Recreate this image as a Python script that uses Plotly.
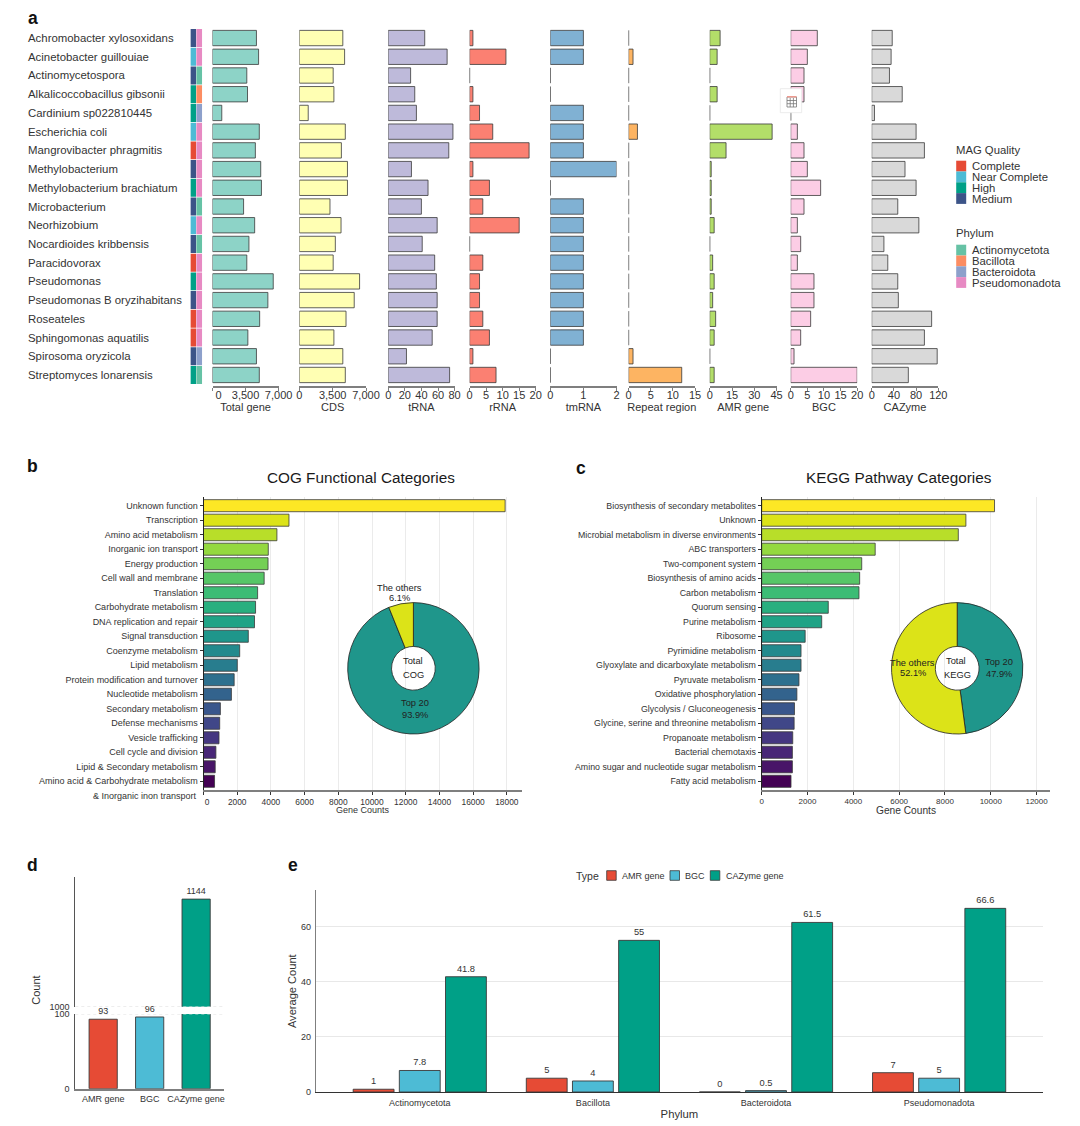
import plotly.graph_objects as go

W, H = 1080, 1126
FONT = "Liberation Sans"
INK = "#333333"
EDGE = "#3a3a3a"
AXIS_GREY = "#7f7f7f"

# Panel a: per-genome traits
species = ["Achromobacter xylosoxidans", "Acinetobacter guillouiae", "Actinomycetospora",
           "Alkalicoccobacillus gibsonii", "Cardinium sp022810445", "Escherichia coli",
           "Mangrovibacter phragmitis", "Methylobacterium", "Methylobacterium brachiatum",
           "Microbacterium", "Neorhizobium", "Nocardioides kribbensis", "Paracidovorax",
           "Pseudomonas", "Pseudomonas B oryzihabitans", "Roseateles", "Sphingomonas aquatilis",
           "Spirosoma oryzicola", "Streptomyces lonarensis"]
quality = ["Medium", "Near Complete", "Medium", "High", "High", "Near Complete", "Complete",
           "Medium", "High", "Medium", "Near Complete", "Medium", "Complete", "High", "Medium",
           "Complete", "Complete", "Medium", "High"]
phylum = ["Pseudomonadota", "Pseudomonadota", "Actinomycetota", "Bacillota", "Bacteroidota",
          "Pseudomonadota", "Pseudomonadota", "Pseudomonadota", "Pseudomonadota", "Actinomycetota",
          "Pseudomonadota", "Actinomycetota", "Pseudomonadota", "Pseudomonadota", "Pseudomonadota",
          "Pseudomonadota", "Pseudomonadota", "Bacteroidota", "Actinomycetota"]
total_gene = [4654, 4881, 3632, 3708, 984, 4957, 4540, 5108, 5184, 3292, 4465, 3859, 3632, 6432, 5865, 4994, 3746, 4654, 4957]
cds = [4567, 4754, 3556, 3631, 936, 4829, 4417, 5054, 5054, 3219, 4380, 3781, 3556, 6327, 5765, 4904, 3631, 4567, 4829]
trna = [44, 71, 27, 32, 34, 78, 73, 28, 48, 40, 59, 41, 56, 58, 59, 59, 53, 22, 74]
rrna = [1, 11, 0, 1, 3, 7, 18, 1, 6, 4, 15, 0, 4, 3, 3, 4, 6, 1, 8]
tmrna = [1, 1, 0, 0, 1, 1, 1, 2, 0, 1, 1, 1, 1, 1, 1, 1, 1, 0, 0]
repeat_region = [0, 1, 0, 0, 0, 2, 0, 0, 0, 0, 0, 0, 0, 0, 0, 0, 0, 1, 12]
amr_gene = [7, 5, 0, 5, 0, 42, 11, 1, 1, 1, 3, 0, 2, 3, 2, 4, 3, 0, 3]
bgc = [8, 5, 4, 4, 0, 2, 4, 5, 9, 4, 2, 3, 2, 7, 7, 6, 3, 1, 20]
cazyme = [37, 35, 32, 55, 5, 80, 95, 60, 80, 47, 85, 22, 29, 47, 48, 108, 95, 118, 66]

quality_colors = {"Complete": "#E64B35", "Near Complete": "#4DBBD5", "High": "#00A087", "Medium": "#3C5488"}
phylum_colors = {"Actinomycetota": "#66C2A5", "Bacillota": "#FC8D62", "Bacteroidota": "#8DA0CB", "Pseudomonadota": "#E78AC3"}

# name, values, fill, axis maximum, ticks, tick labels, left and right pixel of the column
trait_columns = [
    ("Total gene", total_gene, "#8DD3C7", 7000, [0, 3500, 7000], ["\u00a0\u00a0\u00a0\u00a00", "3,500", "7,000"], 212.5, 278.6),
    ("CDS", cds, "#FFFFB3", 7000, [0, 3500, 7000], ["0", "3,500", "7,000"], 299.3, 366.0),
    ("tRNA", trna, "#BEBADA", 80, [0, 20, 40, 60, 80], None, 388.2, 454.6),
    ("rRNA", rrna, "#FB8072", 20, [0, 5, 10, 15, 20], None, 469.6, 535.7),
    ("tmRNA", tmrna, "#80B1D3", 2, [0, 1, 2], None, 550.3, 616.5),
    ("Repeat region", repeat_region, "#FDB462", 15, [0, 5, 10, 15], None, 628.6, 695.0),
    ("AMR gene", amr_gene, "#B3DE69", 45, [0, 15, 30, 45], None, 709.7, 776.6),
    ("BGC", bgc, "#FCCDE5", 20, [0, 5, 10, 15, 20], None, 790.7, 857.2),
    ("CAZyme", cazyme, "#D9D9D9", 120, [0, 40, 80, 120], None, 871.7, 938.3),
]

# Panel b: COG categories
cog_categories = ["Unknown function", "Transcription", "Amino acid metabolism", "Inorganic ion transport",
                  "Energy production", "Cell wall and membrane", "Translation", "Carbohydrate metabolism",
                  "DNA replication and repair", "Signal transduction", "Coenzyme metabolism", "Lipid metabolism",
                  "Protein modification and turnover", "Nucleotide metabolism", "Secondary metabolism",
                  "Defense mechanisms", "Vesicle trafficking", "Cell cycle and division",
                  "Lipid & Secondary metabolism", "Amino acid & Carbohydrate metabolism"]
cog_counts = [17900, 5073, 4357, 3845, 3830, 3600, 3211, 3089, 3027, 2659, 2148, 2005, 1820, 1657, 1002, 961, 920, 736, 695, 655]
cog_share = [93.9, 6.1]

# Panel c: KEGG pathways
kegg_categories = ["Biosynthesis of secondary metabolites", "Unknown", "Microbial metabolism in diverse environments",
                   "ABC transporters", "Two-component system", "Biosynthesis of amino acids", "Carbon metabolism",
                   "Quorum sensing", "Purine metabolism", "Ribosome", "Pyrimidine metabolism",
                   "Glyoxylate and dicarboxylate metabolism", "Pyruvate metabolism", "Oxidative phosphorylation",
                   "Glycolysis / Gluconeogenesis", "Glycine, serine and threonine metabolism", "Propanoate metabolism",
                   "Bacterial chemotaxis", "Amino sugar and nucleotide sugar metabolism", "Fatty acid metabolism"]
kegg_counts = [10165, 8915, 8584, 4955, 4367, 4277, 4247, 2907, 2620, 1898, 1717, 1717, 1627, 1536, 1431, 1416, 1355, 1340, 1340, 1280]
kegg_share = [47.9, 52.1]

viridis_desc = ["#FDE725", "#DCE318", "#B8DE29", "#94D840", "#74D055", "#56C667", "#3CBC75", "#29AF7F", "#20A386",
                "#1F968B", "#238A8D", "#287D8E", "#2D708E", "#33638D", "#39568C", "#404788", "#453781", "#482677",
                "#481568", "#440154"]
share_colors = ["#1F968B", "#DCE318"]

# Panel d: totals with a broken count axis
gene_types = ["AMR gene", "BGC", "CAZyme gene"]
gene_totals = [93, 96, 1144]
type_colors = ["#E64B35", "#4DBBD5", "#00A087"]
AXIS_BREAK_LOW, AXIS_BREAK_HIGH = 100, 1000

# Panel e: averages per phylum
phyla = ["Actinomycetota", "Bacillota", "Bacteroidota", "Pseudomonadota"]
avg_amr = [1, 5, 0, 7]
avg_bgc = [7.8, 4, 0.5, 5]
avg_cazyme = [41.8, 55, 61.5, 66.6]


def dom_x(left, right):
    return [left / W, right / W]


def dom_y(top, bottom):
    return [1 - bottom / H, 1 - top / H]


def px(x):
    return x / W


def py(y):
    return 1 - y / H


annotations = []
shapes = []


def note(text, x, y, size=9, anchor="center", color=INK, **extra):
    annotations.append(dict(text=text, x=px(x), y=py(y), xref="paper", yref="paper", showarrow=False,
                            xanchor=anchor, yanchor="middle", borderpad=0, borderwidth=0,
                            font=dict(size=size, color=color, family=FONT), **extra))


def swatch(x0, y0, x1, y1, fill, line=None):
    shapes.append(dict(type="rect", xref="paper", yref="paper", x0=px(x0), x1=px(x1), y0=py(y0), y1=py(y1),
                       fillcolor=fill, line=dict(width=0.8 if line else 0, color=line or fill), layer="above"))


fig = go.Figure()
axes = {}

A_TOP, A_BOTTOM = 28.7, 386.2
axes["yaxis"] = dict(domain=dom_y(A_TOP, A_BOTTOM), type="category", categoryorder="array", categoryarray=species,
                     range=[18.6, -0.5], showticklabels=False, ticks="", showgrid=False, zeroline=False,
                     showline=False, anchor="x")

# Panel a bars
for i, (name, values, fill, top, ticks, labels, left, right) in enumerate(trait_columns, start=1):
    key = "xaxis" if i == 1 else f"xaxis{i}"
    ref = "x" if i == 1 else f"x{i}"
    fig.add_trace(go.Bar(x=values, y=species, orientation="h", width=0.82, xaxis=ref, yaxis="y", name=name,
                         marker=dict(color=fill, line=dict(color=EDGE, width=0.8)), showlegend=False))
    axes[key] = dict(domain=dom_x(left, right), anchor="y", range=[0, top], tickmode="array", tickvals=ticks,
                     ticktext=labels if labels else [str(t) for t in ticks],
                     ticks="outside", ticklen=3, tickwidth=1, tickcolor=AXIS_GREY, ticklabelstandoff=-5,
                     showline=True, linecolor=AXIS_GREY, linewidth=1.5, showgrid=False, zeroline=False,
                     tickfont=dict(size=11, color=INK, family=FONT),
                     title=dict(text=name, font=dict(size=11, color=INK, family=FONT), standoff=1))

# Annotation strips beside the species names
for idx, (colors, left, right) in enumerate([([quality_colors[q] for q in quality], 190.4, 196.2),
                                             ([phylum_colors[p] for p in phylum], 196.2, 202.2)]):
    n = 10 + idx
    fig.add_trace(go.Bar(x=[1] * len(species), y=species, orientation="h", width=0.96, xaxis=f"x{n}", yaxis="y",
                         marker=dict(color=colors, line=dict(width=0)), showlegend=False))
    axes[f"xaxis{n}"] = dict(domain=dom_x(left, right), anchor="y", range=[0, 1], visible=False)

for name in species:
    annotations.append(dict(text=name, x=px(28), y=name, xref="paper", yref="y", showarrow=False, xanchor="left",
                            yanchor="middle", borderpad=0, borderwidth=0,
                            font=dict(size=11.4, color=INK, family=FONT)))


def legend_block(title, title_y, first_y, entries):
    note(title, 956, title_y, size=11.3, anchor="left")
    for k, (label, color) in enumerate(entries.items()):
        y0 = first_y + k * 10.8
        swatch(956.2, y0, 966.2, y0 + 10.8, color)
        note(label, 971.5, y0 + 5.4, size=11.3, anchor="left")


legend_block("MAG Quality", 150, 160.7, quality_colors)
legend_block("Phylum", 232.7, 244.7, phylum_colors)


# Panels b and c: ranked bars with an inset donut
def ranked_panel(xa, ya, categories, counts, left, right, xmax, ticksize, tickfont, title_x, title_text, title_y):
    fig.add_trace(go.Bar(x=counts, y=categories, orientation="h", width=0.83, xaxis=xa, yaxis=ya, showlegend=False,
                         marker=dict(color=viridis_desc, line=dict(color=EDGE, width=0.8))))
    xkey = "xaxis" + xa[1:]
    ykey = "yaxis" + ya[1:]
    axes[ykey] = dict(domain=dom_y(496.7, 790), anchor=xa, type="category", categoryorder="array",
                      categoryarray=categories, range=[19.6, -0.62], ticks="outside", ticklen=3, tickwidth=0.8,
                      tickcolor=INK, showline=True, linecolor="#222222", linewidth=1, showgrid=False, zeroline=False,
                      tickfont=dict(size=ticksize, color=INK, family=FONT))
    axes[xkey] = dict(domain=dom_x(left, right), anchor=ya, range=[0, xmax], showline=True, linecolor=AXIS_GREY,
                      linewidth=1.5, ticks="outside", ticklen=3, tickwidth=0.8, tickcolor=INK, showgrid=True,
                      gridcolor="#EBEBEB", gridwidth=1, zeroline=False,
                      tickfont=dict(size=tickfont, color=INK, family=FONT))
    note(title_text, title_x, title_y, size=15.3, color="#1a1a1a")


ranked_panel("x12", "y2", cog_categories, cog_counts, 203.5, 522.4, 18925, 9, 8.4, 361,
             "COG Functional Categories", 477.7)
axes["xaxis12"].update(tickmode="array", tickvals=list(range(0, 18001, 2000)),
                       ticktext=["\u00a0\u00a0\u00a00"] + [str(v) for v in range(2000, 18001, 2000)])
note("Gene Counts", 363, 810, size=9)
note("& Inorganic inon transport", 197, 795.7, size=9, anchor="right")

ranked_panel("x13", "y3", kegg_categories, kegg_counts, 761.7, 1050.3, 12600, 8.8, 8, 899,
             "KEGG Pathway Categories", 477.7)
axes["xaxis13"].update(tickmode="array", tickvals=list(range(0, 12001, 2000)),
                       ticktext=[str(v) for v in range(0, 12001, 2000)])
note("Gene Counts", 906, 810.3, size=10.2)


def donut(share, cx, cy, radius):
    fig.add_trace(go.Pie(values=share, labels=["Top 20", "The others"], hole=0.333, sort=False, direction="clockwise",
                         rotation=0, textinfo="none", showlegend=False,
                         marker=dict(colors=share_colors, line=dict(color="#222222", width=0.8)),
                         domain=dict(x=dom_x(cx - radius, cx + radius), y=dom_y(cy - radius, cy + radius))))


donut(cog_share, 413.4, 668.3, 65.7)
donut(kegg_share, 957.2, 668.3, 65.7)

for text, x, y in [("The others", 399, 587.7), (f"{cog_share[1]}%", 399, 597.7), ("Total", 412.8, 661), ("COG", 413.4, 675.3),
                   ("Top 20", 414.8, 702.7), (f"{cog_share[0]}%", 414.8, 714.7),
                   ("The others", 912.8, 663.3), (f"{kegg_share[1]}%", 912.8, 673), ("Top 20", 999.3, 662.3),
                   (f"{kegg_share[0]}%", 999.3, 673.7), ("Total", 955.9, 661), ("KEGG", 957, 675.3)]:
    note(text, x, y, size=9.3, color="#222222")

# Panel d: same bars drawn on both sides of the axis break
low_text = [str(v) if v < AXIS_BREAK_HIGH else None for v in gene_totals]
high_text = [str(v) if v >= AXIS_BREAK_HIGH else None for v in gene_totals]
for ya, text in [("y4", low_text), ("y5", high_text)]:
    fig.add_trace(go.Bar(x=gene_types, y=gene_totals, width=0.607, xaxis="x14", yaxis=ya, showlegend=False,
                         text=text, textposition="outside", cliponaxis=False,
                         textfont=dict(size=9, color=INK, family=FONT),
                         marker=dict(color=type_colors, line=dict(color=EDGE, width=0.9))))
axes["xaxis14"] = dict(domain=dom_x(75.3, 224), anchor="y4", type="category", categoryorder="array",
                       categoryarray=gene_types, range=[-0.6, 2.6], showline=True, linecolor=AXIS_GREY, linewidth=1.5,
                       ticks="", showgrid=False, zeroline=False, ticklabelstandoff=1,
                       tickfont=dict(size=9, color=INK, family=FONT))
axes["yaxis4"] = dict(domain=dom_y(1014, 1088.7), anchor="x14", range=[0, AXIS_BREAK_LOW], tickmode="array",
                      tickvals=[0, AXIS_BREAK_LOW], ticktext=["0", str(AXIS_BREAK_LOW)], showline=True,
                      linecolor="#555555", linewidth=1, ticks="", showgrid=False, zeroline=False, ticklabelstandoff=3,
                      tickfont=dict(size=9, color=INK, family=FONT))
axes["yaxis5"] = dict(domain=dom_y(876.7, 1006.7), anchor="x14", range=[AXIS_BREAK_HIGH, 1174], tickmode="array",
                      tickvals=[AXIS_BREAK_HIGH], ticktext=[str(AXIS_BREAK_HIGH)], showline=True,
                      linecolor="#555555", linewidth=1, ticks="", showgrid=False, zeroline=False, ticklabelstandoff=3,
                      tickfont=dict(size=9, color=INK, family=FONT))
for yref, level in [("y4", AXIS_BREAK_LOW), ("y5", AXIS_BREAK_HIGH)]:
    shapes.append(dict(type="line", xref="x14 domain", yref=yref, x0=0, x1=1, y0=level, y1=level,
                       line=dict(color="#d9d9d9", width=0.8, dash="dot"), layer="above"))
annotations.append(dict(text="Count", x=px(35.7), y=py(990), xref="paper", yref="paper", showarrow=False, textangle=-90,
                        xanchor="center", yanchor="middle", font=dict(size=11, color=INK, family=FONT)))

# Panel e: grouped averages
for name, values, color in zip(gene_types, [avg_amr, avg_bgc, avg_cazyme], type_colors):
    fig.add_trace(go.Bar(x=phyla, y=values, name=name, xaxis="x15", yaxis="y6", showlegend=False,
                         text=[f"{v:g}" for v in values], textposition="outside", cliponaxis=False,
                         textfont=dict(size=9.3, color=INK, family=FONT),
                         marker=dict(color=color, line=dict(color=EDGE, width=0.9))))
axes["xaxis15"] = dict(domain=dom_x(315.9, 1043), anchor="y6", type="category", categoryorder="array",
                       categoryarray=phyla, range=[-0.6, 3.6], showline=True, linecolor=INK, linewidth=1.2, ticks="",
                       showgrid=False, zeroline=False, ticklabelstandoff=2,
                       tickfont=dict(size=9, color=INK, family=FONT),
                       title=dict(text="Phylum", font=dict(size=11.3, color=INK, family=FONT), standoff=3))
axes["yaxis6"] = dict(domain=dom_y(890, 1092), anchor="x15", range=[0, 73.26], tickvals=[0, 20, 40, 60], showline=True,
                      linecolor=AXIS_GREY, linewidth=1, ticks="", showgrid=True, gridcolor="#E8E8E8", gridwidth=1.2,
                      zeroline=False, ticklabelstandoff=2, tickfont=dict(size=9, color=INK, family=FONT))
annotations.append(dict(text="Average Count", x=px(291.4), y=py(990.7), xref="paper", yref="paper", showarrow=False,
                        textangle=-90, xanchor="center", yanchor="middle",
                        font=dict(size=11.1, color=INK, family=FONT)))
note("Type", 587.3, 875.7, size=10.5)
for label, color, sw_left, text_left in zip(gene_types, type_colors, [606.7, 670, 710.3], [621.5, 684.8, 725.6]):
    swatch(sw_left, 870.7, sw_left + 9.5, 880.3, color, line=EDGE)
    note(label, text_left, 875.7, size=9, anchor="left")

# Panel letters
for letter, x, y in [("a", 27.5, 18), ("b", 27, 466), ("c", 575.5, 468), ("d", 27, 865), ("e", 288, 865)]:
    note(f"<b>{letter}</b>", x, y, size=17.5, anchor="left", color="#111111")

# Small table badge floating over the BGC column
swatch(780.3, 88.7, 801.7, 112.7, "#ffffff", line="#e6e6e6")
swatch(787, 97, 796.5, 107, "#ffffff", line="#777777")
swatch(787, 96, 796.5, 97.5, "#ee9a90")
for gx in (790.2, 793.4):
    shapes.append(dict(type="line", xref="paper", yref="paper", x0=px(gx), x1=px(gx), y0=py(98), y1=py(107),
                       line=dict(color="#777777", width=0.8), layer="above"))
for gy in (100.5, 103.7):
    shapes.append(dict(type="line", xref="paper", yref="paper", x0=px(787), x1=px(796.5), y0=py(gy), y1=py(gy),
                       line=dict(color="#777777", width=0.8), layer="above"))

# Domains above are fixed in pixels, so tick labels must not push the margins
for axis in axes.values():
    axis["automargin"] = False

fig.update_layout(width=W, height=H, margin=dict(l=0, r=0, t=0, b=0), paper_bgcolor="white", plot_bgcolor="white",
                  font=dict(family=FONT, color=INK), barmode="group", bargap=0.2, bargroupgap=0.115, showlegend=False,
                  annotations=annotations, shapes=shapes, **axes)

fig.write_html("out.html", config={"displayModeBar": False})
